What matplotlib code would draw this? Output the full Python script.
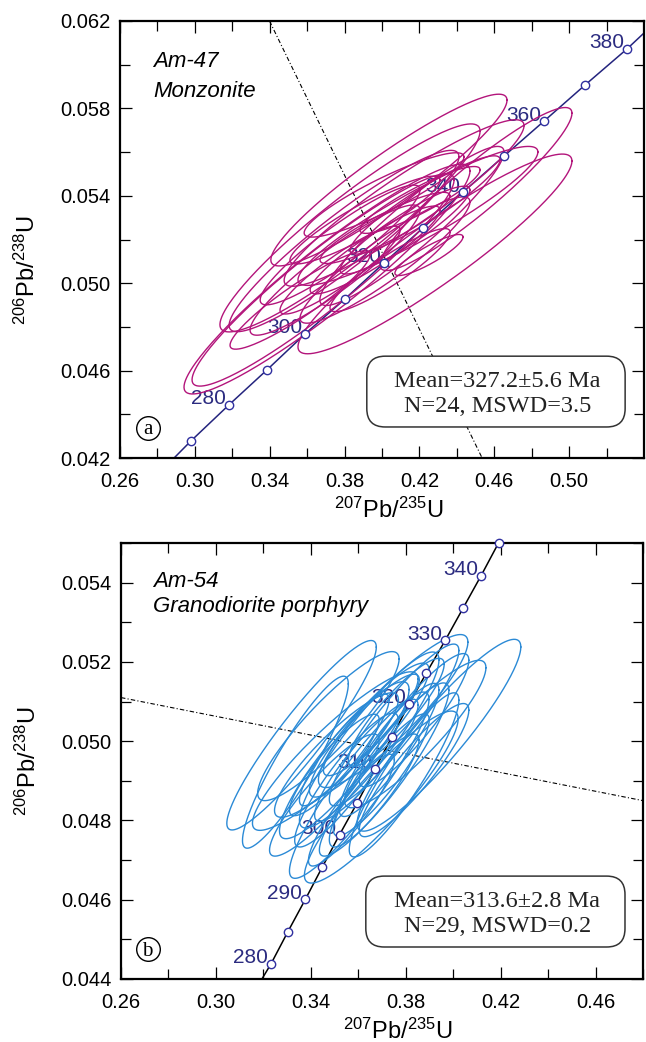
import numpy as np
import matplotlib
matplotlib.use("Agg")
import matplotlib.pyplot as plt
from matplotlib.patches import FancyBboxPatch

plt.rcParams['font.family'] = 'Liberation Sans'
plt.rcParams['mathtext.fontset'] = 'custom'
plt.rcParams['mathtext.rm'] = 'Liberation Sans'
plt.rcParams['mathtext.it'] = 'Liberation Sans:italic'

# ---- panel a: Am-47 monzonite ----
ages_a = [270, 280, 290, 300, 310, 320, 330, 340, 350, 360, 370, 380]
conc_a_x = [0.2979, 0.3182, 0.3385, 0.3589, 0.3802, 0.4011, 0.4219, 0.4433, 0.4652, 0.4866, 0.5085, 0.5309]
conc_a_y = [0.04278, 0.04443, 0.04603, 0.04768, 0.04928, 0.05093, 0.05253, 0.05417, 0.05582, 0.05742, 0.05907, 0.06072]
conc_a_ends_x = [0.2889, 0.5400]
conc_a_ends_y = [0.0420, 0.06145]
labels_a = [280, 300, 320, 340, 360, 380]
ref_a_x = [0.3399, 0.4535]
ref_a_y = [0.0620, 0.0420]

ell_a_x = [0.4037, 0.4502, 0.4283, 0.4251, 0.3706, 0.3685, 0.3829, 0.3797, 0.3562, 0.4118, 0.4011, 0.4192,
           0.4160, 0.4123, 0.3963, 0.4043, 0.3776, 0.3909, 0.4230, 0.4203, 0.3776, 0.4016, 0.4016, 0.3749]
ell_a_y = [0.05472, 0.05431, 0.05134, 0.05129, 0.05019, 0.05015, 0.05253, 0.05193, 0.04923, 0.05367, 0.05404, 0.05308,
           0.05262, 0.05243, 0.05152, 0.05060, 0.05175, 0.05289, 0.05358, 0.05381, 0.05060, 0.05106, 0.05253, 0.05060]
ell_a_sx = [0.0631, 0.0513, 0.0732, 0.0182, 0.0764, 0.0700, 0.0695, 0.0614, 0.0374, 0.0641, 0.0427, 0.0641,
            0.0492, 0.0347, 0.0347, 0.0321, 0.0427, 0.0401, 0.0401, 0.0321, 0.0321, 0.0454, 0.0347, 0.0454]
ell_a_sy = [0.00393, 0.00373, 0.00457, 0.00094, 0.00526, 0.00486, 0.00476, 0.00415, 0.00225, 0.00381, 0.00193, 0.00318,
            0.00364, 0.00201, 0.00201, 0.00190, 0.00274, 0.00201, 0.00225, 0.00153, 0.00201, 0.00289, 0.00163, 0.00298]
ell_a_rho = [0.93, 0.93, 0.93, 0.88, 0.94, 0.94, 0.93, 0.93, 0.92, 0.93, 0.90, 0.92,
             0.93, 0.91, 0.91, 0.91, 0.92, 0.91, 0.92, 0.90, 0.91, 0.92, 0.90, 0.92]

# ---- panel b: Am-54 granodiorite porphyry ----
ages_b = [280, 285, 290, 295, 300, 305, 310, 315, 320, 325, 330, 335, 340, 345]
conc_b_x = [0.3232, 0.3303, 0.3377, 0.3448, 0.3521, 0.3596, 0.3671, 0.3741, 0.3814, 0.3887, 0.3967, 0.4042, 0.4118, 0.4191]
conc_b_y = [0.04438, 0.04519, 0.04601, 0.04682, 0.04764, 0.04845, 0.04930, 0.05010, 0.05094, 0.05172, 0.05255, 0.05336, 0.05418, 0.05500]
conc_b_ends_x = [0.3194, 0.4191]
conc_b_ends_y = [0.0440, 0.0550]
labels_b = [280, 290, 300, 310, 320, 330, 340]
ref_b_x = [0.26, 0.48]
ref_b_y = [0.0511, 0.0485]

ell_b_x = [0.3361, 0.3335, 0.3474, 0.3503, 0.3604, 0.3697, 0.3940, 0.3840, 0.3747, 0.3751, 0.3646, 0.3646, 0.3541, 0.3508, 0.3730,
           0.3793, 0.3550, 0.3646, 0.3730, 0.3835, 0.3541, 0.3655, 0.3760, 0.3634, 0.3457, 0.3697, 0.3835, 0.3571, 0.3499]
ell_b_y = [0.05015, 0.04947, 0.05038, 0.04975, 0.04889, 0.04859, 0.05015, 0.05018, 0.05076, 0.05041, 0.05003, 0.05028, 0.04952, 0.04965, 0.04940,
           0.04915, 0.04902, 0.04864, 0.04978, 0.05053, 0.04978, 0.05041, 0.05073, 0.04952, 0.04864, 0.04915, 0.04927, 0.04826, 0.04940]
ell_b_sx = [0.0315, 0.0223, 0.0298, 0.0349, 0.0294, 0.0324, 0.0345, 0.0298, 0.0315, 0.0273, 0.0294, 0.0252, 0.0273, 0.0261, 0.0252,
            0.0231, 0.0218, 0.0210, 0.0210, 0.0231, 0.0189, 0.0202, 0.0202, 0.0218, 0.0231, 0.0202, 0.0231, 0.0181, 0.0189]
ell_b_sy = [0.00239, 0.00217, 0.00188, 0.00200, 0.00235, 0.00217, 0.00242, 0.00186, 0.00193, 0.00204, 0.00222, 0.00169, 0.00198, 0.00157, 0.00207,
            0.00207, 0.00169, 0.00154, 0.00168, 0.00168, 0.00141, 0.00128, 0.00136, 0.00154, 0.00154, 0.00154, 0.00168, 0.00141, 0.00128]
ell_b_rho = [0.93, 0.91, 0.90, 0.91, 0.92, 0.91, 0.92, 0.90, 0.90, 0.92, 0.91, 0.90, 0.90, 0.89, 0.91,
             0.91, 0.90, 0.90, 0.90, 0.90, 0.90, 0.89, 0.89, 0.90, 0.90, 0.90, 0.90, 0.90, 0.89]

NAVY = '#24247e'
TEXT_NAVY = '#2b2b80'


def drawEllipses(ax, xs, ys, sxs, sys_, rhos, color):
    t = np.linspace(0, 2 * np.pi, 240)
    for cx, cy, sx, sy, r in zip(xs, ys, sxs, sys_, rhos):
        ex = cx + sx * np.cos(t)
        ey = cy + sy * (r * np.cos(t) + np.sqrt(1 - r * r) * np.sin(t))
        ax.plot(ex, ey, color=color, lw=1.0, zorder=3)


def drawConcordia(ax, ages, cx, cy, ends_x, ends_y, labels, linecolor):
    lx = [ends_x[0]] + list(cx) + [ends_x[1]]
    ly = [ends_y[0]] + list(cy) + [ends_y[1]]
    ax.plot(lx, ly, color=linecolor, lw=1.1, zorder=2)
    ax.plot(cx, cy, 'o', ms=6, mfc='white', mec='#3030a0', mew=1.0,
            zorder=4, clip_on=False)
    for age, x, y in zip(ages, cx, cy):
        if age in labels:
            ax.annotate(str(age), (x, y), xytext=(-3, 6), textcoords='offset pixels',
                        ha='right', va='center', fontsize=15, color=TEXT_NAVY, zorder=2)


def styleAxes(ax, xmaj, xmin, ymaj, ymin, xlim, ylim):
    ax.set_xlim(xlim)
    ax.set_ylim(ylim)
    ax.set_xticks(xmaj)
    ax.set_xticks(xmin, minor=True)
    ax.set_yticks(ymaj)
    ax.set_yticks(ymin, minor=True)
    ax.set_xticklabels(['%.2f' % v for v in xmaj])
    ax.set_yticklabels(['%.3f' % v for v in ymaj])
    ax.tick_params(which='both', direction='in', top=True, right=True, width=0.9, labelsize=14.5)
    ax.tick_params(which='major', length=8.5)
    ax.tick_params(which='minor', length=7)
    ax.tick_params(axis='x', pad=10)
    ax.tick_params(axis='y', pad=7)
    for s in ax.spines.values():
        s.set_linewidth(1.6)


def addBox(ax, x0, y0, w, h, line1, line2, xc, yb1, yb2):
    box = FancyBboxPatch((x0, y0), w, h, boxstyle='round,pad=0,rounding_size=0.035',
                         mutation_aspect=1.2, transform=ax.transAxes,
                         fc='white', ec='#333333', lw=1.1, zorder=5)
    ax.add_patch(box)
    ax.text(xc, yb1, line1, transform=ax.transAxes, ha='center', va='baseline',
            family='Liberation Serif', fontsize=17.5, color='#222222', zorder=6)
    ax.text(xc, yb2, line2, transform=ax.transAxes, ha='center', va='baseline',
            family='Liberation Serif', fontsize=17.5, color='#222222', zorder=6)


def addCircleLabel(ax, x, y, letter):
    ax.plot([x], [y], 'o', ms=17, mfc='none', mec='black', mew=1.0,
            transform=ax.transAxes, zorder=6)
    ax.text(x, y - 0.004, letter, transform=ax.transAxes, ha='center', va='center',
            family='Liberation Serif', fontsize=15, zorder=6)


def main():
    fig = plt.figure(figsize=(6.46, 10.42), dpi=100)
    ax1 = fig.add_axes([120 / 646, 1 - 458 / 1042, 524 / 646, 437 / 1042])
    ax2 = fig.add_axes([121 / 646, 1 - 979 / 1042, 522 / 646, 436 / 1042])

    # panel a
    ax1.plot(ref_a_x, ref_a_y, color='black', lw=0.8, ls=(0, (4, 2, 1, 2)), zorder=1)
    drawConcordia(ax1, ages_a, conc_a_x, conc_a_y, conc_a_ends_x, conc_a_ends_y, labels_a, NAVY)
    drawEllipses(ax1, ell_a_x, ell_a_y, ell_a_sx, ell_a_sy, ell_a_rho, '#b3157b')
    styleAxes(ax1, [0.26, 0.30, 0.34, 0.38, 0.42, 0.46, 0.50],
              [0.28, 0.32, 0.36, 0.40, 0.44, 0.48, 0.52],
              [0.042, 0.046, 0.050, 0.054, 0.058, 0.062],
              [0.044, 0.048, 0.052, 0.056, 0.060],
              (0.26, 0.54), (0.042, 0.062))
    ax1.text(0.063, 0.895, 'Am-47', transform=ax1.transAxes, style='italic',
             fontsize=16, va='baseline')
    ax1.text(0.063, 0.826, 'Monzonite', transform=ax1.transAxes, style='italic',
             fontsize=16, va='baseline')
    addBox(ax1, 0.471, 0.071, 0.493, 0.162, 'Mean=327.2\u00b15.6 Ma', 'N=24, MSWD=3.5',
           0.720, 0.1625, 0.105)
    addCircleLabel(ax1, 0.053, 0.069, 'a')
    ax1.set_xlabel(r'$^{207}$Pb/$^{235}$U', fontsize=17)
    ax1.set_ylabel(r'$^{206}$Pb/$^{238}$U', fontsize=17)
    ax1.xaxis.set_label_coords(0.513, -0.09)
    ax1.yaxis.set_label_coords(-0.153, 0.43)

    # panel b
    ax2.plot(ref_b_x, ref_b_y, color='black', lw=0.8, ls=(0, (4, 2, 1, 2)), zorder=1)
    drawConcordia(ax2, ages_b, conc_b_x, conc_b_y, conc_b_ends_x, conc_b_ends_y, labels_b, 'black')
    drawEllipses(ax2, ell_b_x, ell_b_y, ell_b_sx, ell_b_sy, ell_b_rho, '#2b8ad6')
    styleAxes(ax2, [0.26, 0.30, 0.34, 0.38, 0.42, 0.46],
              [0.28, 0.32, 0.36, 0.40, 0.44, 0.48],
              [0.044, 0.046, 0.048, 0.050, 0.052, 0.054],
              [0.045, 0.047, 0.049, 0.051, 0.053, 0.055],
              (0.26, 0.48), (0.044, 0.055))
    ax2.text(0.061, 0.899, 'Am-54', transform=ax2.transAxes, style='italic',
             fontsize=16, va='baseline')
    ax2.text(0.061, 0.842, 'Granodiorite porphyry', transform=ax2.transAxes, style='italic',
             fontsize=16, va='baseline')
    addBox(ax2, 0.469, 0.0734, 0.4965, 0.1626, 'Mean=313.6\u00b12.8 Ma', 'N=29, MSWD=0.2',
           0.721, 0.165, 0.108)
    addCircleLabel(ax2, 0.051, 0.068, 'b')
    ax2.set_xlabel(r'$^{207}$Pb/$^{235}$U', fontsize=17)
    ax2.set_ylabel(r'$^{206}$Pb/$^{238}$U', fontsize=17)
    ax2.xaxis.set_label_coords(0.53, -0.09)
    ax2.yaxis.set_label_coords(-0.153, 0.5)

    fig.savefig('out.png', dpi=100)


main()
